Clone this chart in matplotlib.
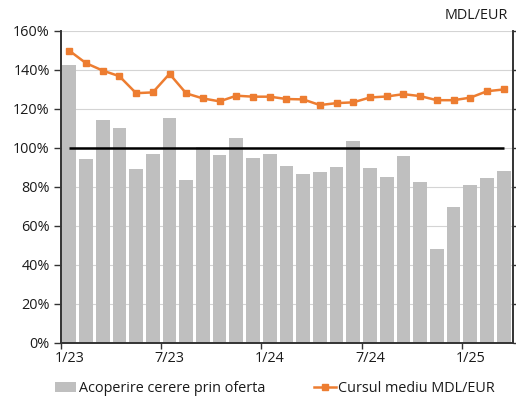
import matplotlib
matplotlib.use("Agg")
import matplotlib.pyplot as plt
from matplotlib.patches import Patch
from matplotlib.lines import Line2D
import numpy as np

plt.rcParams['font.family'] = ['Open Sans', 'DejaVu Sans']

months = ["1/23", "2/23", "3/23", "4/23", "5/23", "6/23", "7/23", "8/23", "9/23", "10/23", "11/23", "12/23",
          "1/24", "2/24", "3/24", "4/24", "5/24", "6/24", "7/24", "8/24", "9/24", "10/24", "11/24", "12/24",
          "1/25", "2/25", "3/25"]
acoperire = [142.6, 94.2, 114.5, 110.2, 89.0, 97.1, 115.3, 83.5, 100.5, 96.4, 105.0, 94.7, 97.1, 90.5,
             86.4, 87.9, 90.0, 103.8, 89.5, 85.0, 96.1, 82.6, 48.1, 69.7, 80.9, 84.7, 88.4]
cursul = [149.9, 143.5, 139.7, 136.8, 128.1, 128.5, 138.0, 128.0, 125.4, 123.9, 126.8, 126.3, 126.3, 125.1,
          124.9, 122.0, 123.0, 123.4, 125.9, 126.4, 127.6, 126.6, 124.5, 124.5, 125.8, 129.1, 130.0]
prag = 100
yticks = [0, 20, 40, 60, 80, 100, 120, 140, 160]

bar_color = "#BFBFBF"
line_color = "#ED7D31"
txt = "#1a1a1a"
fs = 10.4

fig = plt.figure(figsize=(5.16, 3.99), dpi=100)
ax = fig.add_axes([0.118, 0.1404, 0.876, 0.782])
x = np.arange(len(months))

ax.set_axisbelow(True)
ax.yaxis.grid(True, color="#D4D4D4", linewidth=0.8)
ax.bar(x, acoperire, width=0.82, color=bar_color, zorder=2)
ax.hlines(prag, x[0], x[-1], color="black", linewidth=1.8, zorder=4)

ax2 = ax.twinx()
ax2.plot(x, cursul, color=line_color, linewidth=1.8, marker="s", markersize=4.5, zorder=5)
ax2.set_ylim(0, 160)
ax2.set_yticks(yticks)
ax2.set_yticklabels([])
ax2.tick_params(axis='y', direction='out', length=5, width=1, color="#333333")

ax.set_xlim(-0.5, 26.55)
ax.set_ylim(0, 160)
ax.set_yticks(yticks)
ax.set_yticklabels([f"{v}%" for v in yticks], fontsize=fs, color=txt)
ax.tick_params(axis='y', direction='out', length=5, width=1, color="#333333", pad=3)

major = [i - 0.5 for i in range(0, len(months), 6)]
ax.set_xticks(major)
ax.set_xticklabels([])
ax.tick_params(axis='x', which='major', direction='out', length=4, width=1, color="#333333")
ax.set_xticks(list(range(0, len(months), 6)), minor=True)
ax.set_xticklabels([months[i] for i in range(0, len(months), 6)], minor=True, fontsize=fs, color=txt)
ax.tick_params(axis='x', which='minor', length=0, pad=6)

for a in (ax, ax2):
    a.spines['top'].set_visible(False)
    for s in ('left', 'right', 'bottom'):
        a.spines[s].set_color("#333333")
        a.spines[s].set_linewidth(1.2)

fig.text(0.984, 0.96, "MDL/EUR", ha='right', va='center', fontsize=fs, color=txt)

handles = [Patch(facecolor=bar_color, edgecolor='none'),
           Line2D([0], [0], color=line_color, linewidth=1.8, marker='s', markersize=4.5)]
fig.legend(handles, ["Acoperire cerere prin oferta", "Cursul mediu MDL/EUR"], loc='center left',
           bbox_to_anchor=(0.095, 0.027), ncol=2, frameon=False, fontsize=fs, handlelength=1.5,
           handletextpad=0.15, columnspacing=3.4, borderaxespad=0, labelcolor=txt)

fig.savefig("out.png", dpi=100)
